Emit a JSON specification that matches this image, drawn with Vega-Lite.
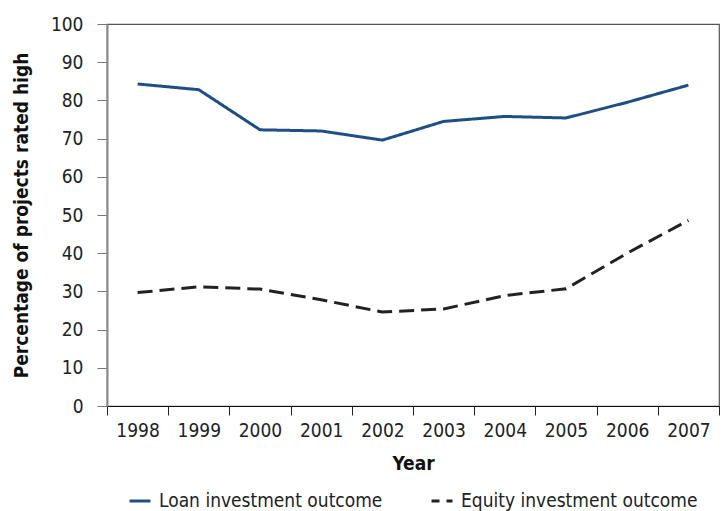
{
  "$schema": "https://vega.github.io/schema/vega-lite/v6.json",
  "width": 612,
  "height": 382,
  "autosize": {"type": "none"},
  "padding": {"left": 107, "top": 24, "right": 3, "bottom": 105},
  "background": "white",
  "config": {
    "font": "DejaVu Sans Condensed, Roboto, sans-serif",
    "view": {"stroke": "#555", "strokeWidth": 1.2},
    "axis": {"grid": false}
  },
  "data": {
    "values": [
      {"year": "1998", "series": "Loan investment outcome", "value": 84.3},
      {"year": "1999", "series": "Loan investment outcome", "value": 82.8},
      {"year": "2000", "series": "Loan investment outcome", "value": 72.3},
      {"year": "2001", "series": "Loan investment outcome", "value": 72.0},
      {"year": "2002", "series": "Loan investment outcome", "value": 69.6},
      {"year": "2003", "series": "Loan investment outcome", "value": 74.5},
      {"year": "2004", "series": "Loan investment outcome", "value": 75.8},
      {"year": "2005", "series": "Loan investment outcome", "value": 75.4},
      {"year": "2006", "series": "Loan investment outcome", "value": 79.5},
      {"year": "2007", "series": "Loan investment outcome", "value": 84.0},
      {"year": "1998", "series": "Equity investment outcome", "value": 29.7},
      {"year": "1999", "series": "Equity investment outcome", "value": 31.2},
      {"year": "2000", "series": "Equity investment outcome", "value": 30.6},
      {"year": "2001", "series": "Equity investment outcome", "value": 27.8},
      {"year": "2002", "series": "Equity investment outcome", "value": 24.6},
      {"year": "2003", "series": "Equity investment outcome", "value": 25.4},
      {"year": "2004", "series": "Equity investment outcome", "value": 28.9},
      {"year": "2005", "series": "Equity investment outcome", "value": 30.7},
      {"year": "2006", "series": "Equity investment outcome", "value": 40.0},
      {"year": "2007", "series": "Equity investment outcome", "value": 48.6}
    ]
  },
  "mark": {"type": "line", "strokeWidth": 3},
  "encoding": {
    "x": {
      "field": "year",
      "type": "ordinal",
      "bandPosition": 0.5,
      "scale": {"type": "band", "paddingInner": 0, "paddingOuter": 0},
      "axis": {
        "title": "Year",
        "titleFontSize": 19,
        "titleFontWeight": "bold",
        "titleColor": "#111",
        "titlePadding": 14,
        "labelAngle": 0,
        "labelFontSize": 19,
        "labelColor": "#222",
        "labelPadding": 6,
        "tickBand": "extent",
        "tickSize": 9,
        "tickColor": "#222",
        "domainColor": "#111",
        "domainWidth": 1.2
      }
    },
    "y": {
      "field": "value",
      "type": "quantitative",
      "scale": {"domain": [0, 100], "nice": false},
      "axis": {
        "title": "Percentage of projects rated high",
        "titleFontSize": 19,
        "titleFontWeight": "bold",
        "titleColor": "#111",
        "titlePadding": 19,
        "values": [0, 10, 20, 30, 40, 50, 60, 70, 80, 90, 100],
        "labelFontSize": 19,
        "labelColor": "#222",
        "labelPadding": 14,
        "tickSize": 10,
        "tickColor": "#777",
        "domainColor": "#888",
        "domainWidth": 2
      }
    },
    "color": {
      "field": "series",
      "type": "nominal",
      "scale": {
        "domain": ["Loan investment outcome", "Equity investment outcome"],
        "range": ["#1d4e85", "#222222"]
      },
      "legend": {
        "title": null,
        "orient": "none",
        "legendX": 21,
        "legendY": 465,
        "direction": "horizontal",
        "columns": 2,
        "labelFontSize": 19,
        "labelColor": "#222",
        "labelLimit": 400,
        "symbolType": "stroke",
        "symbolSize": 441,
        "symbolStrokeWidth": 3,
        "symbolDashOffset": 7,
        "labelOffset": 7,
        "columnPadding": 42
      }
    },
    "strokeDash": {
      "field": "series",
      "type": "nominal",
      "scale": {
        "domain": ["Loan investment outcome", "Equity investment outcome"],
        "range": [[1, 0], [15, 7]]
      },
      "legend": null
    }
  }
}
